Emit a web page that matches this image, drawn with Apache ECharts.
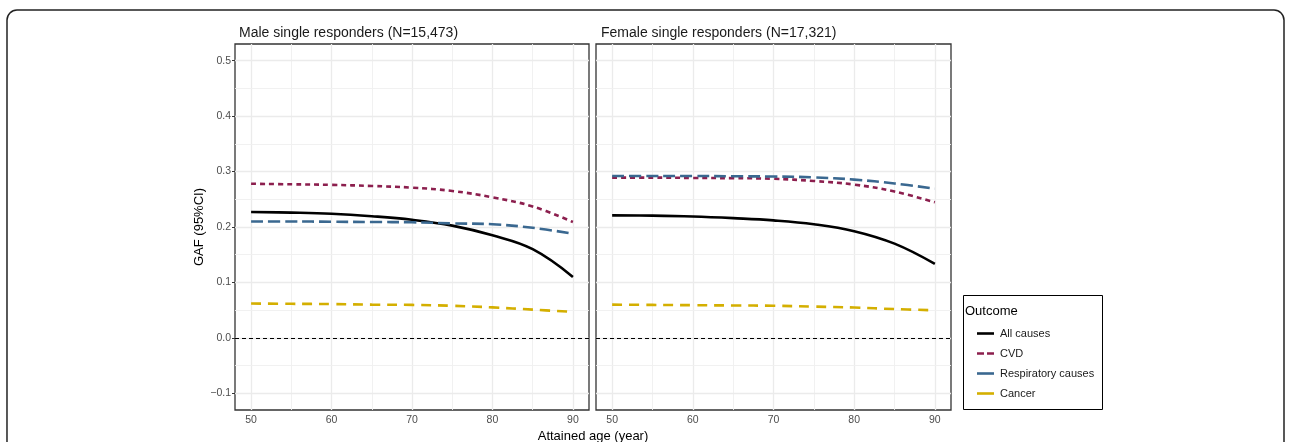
<!DOCTYPE html>
<html>
<head>
<meta charset="utf-8">
<script src="https://cdn.jsdelivr.net/npm/echarts@6/dist/echarts.min.js"></script>
<style>
html,body{margin:0;padding:0;background:#fff;}
#main{width:1292px;height:442px;}
</style>
</head>
<body>
<div id="main"></div>
<script>
// attained age points
var ages = [50, 55, 60, 65, 70, 75, 80, 85, 90];

var maleAll    = [0.227, 0.226, 0.224, 0.2195, 0.213, 0.2025, 0.185, 0.160, 0.110];
var maleCvd    = [0.278, 0.277, 0.276, 0.274, 0.271, 0.265, 0.2535, 0.237, 0.209];
var maleResp   = [0.210, 0.210, 0.2095, 0.209, 0.2085, 0.2065, 0.205, 0.1985, 0.188];
var maleCancer = [0.062, 0.0615, 0.061, 0.060, 0.0595, 0.058, 0.055, 0.051, 0.047];

var femAll    = [0.221, 0.2205, 0.219, 0.216, 0.212, 0.205, 0.1925, 0.170, 0.1335];
var femCvd    = [0.289, 0.289, 0.2885, 0.288, 0.287, 0.283, 0.2765, 0.264, 0.2445];
var femResp   = [0.292, 0.292, 0.292, 0.2915, 0.291, 0.2895, 0.2855, 0.2785, 0.269];
var femCancer = [0.060, 0.0595, 0.059, 0.0585, 0.058, 0.0565, 0.0548, 0.052, 0.0498];

var outcomes = ['All causes', 'CVD', 'Respiratory causes', 'Cancer'];
var xTicks = [50, 60, 70, 80, 90];
var xMinor = [55, 65, 75, 85];
var yTicks = [-0.1, 0, 0.1, 0.2, 0.3, 0.4, 0.5];
var yMinor = [-0.05, 0.05, 0.15, 0.25, 0.35, 0.45];

var colors = {'All causes':'#000000', 'CVD':'#8C1F4E', 'Respiratory causes':'#3A6890', 'Cancer':'#D4AF00'};
var dashes = {'All causes':'solid', 'CVD':[5,4], 'Respiratory causes':[12,5], 'Cancer':[10,7]};
// legend keys: solid bar, or two short dashes for CVD
var keyIcons = {
    'All causes':'path://M0,0H17V2.6H0Z',
    'CVD':'path://M0,0H7V2.6H0Z M10,0H17V2.6H10Z',
    'Respiratory causes':'path://M0,0H17V2.6H0Z',
    'Cancer':'path://M0,0H17V2.6H0Z'
};

function pairs(ys){
    var out = [];
    for (var i = 0; i < ages.length; i++) out.push([ages[i], ys[i]]);
    return out;
}

function gridLines(idx){
    var d = [];
    xTicks.forEach(function(v){ d.push({xAxis:v, lineStyle:{color:'#EBEBEB', width:1.3, type:'solid'}}); });
    xMinor.forEach(function(v){ d.push({xAxis:v, lineStyle:{color:'#EFEFEF', width:0.9, type:'solid'}}); });
    yTicks.forEach(function(v){ d.push({yAxis:v, lineStyle:{color:'#EBEBEB', width:1.3, type:'solid'}}); });
    yMinor.forEach(function(v){ d.push({yAxis:v, lineStyle:{color:'#EFEFEF', width:0.9, type:'solid'}}); });
    return {
        name:'grid' + idx, type:'line', xAxisIndex:idx, yAxisIndex:idx, data:[], z:1, silent:true,
        markLine:{z:1, silent:true, symbol:['none','none'], label:{show:false}, animation:false, data:d}
    };
}

function zeroLine(idx){
    return {
        name:'zero' + idx, type:'line', xAxisIndex:idx, yAxisIndex:idx, data:[], z:2, silent:true,
        markLine:{z:2, silent:true, symbol:['none','none'], label:{show:false}, animation:false,
            data:[{yAxis:0, lineStyle:{color:'#000', width:1, type:[4,3]}}]}
    };
}

function curve(name, idx, ys){
    return {
        name:name, type:'line', xAxisIndex:idx, yAxisIndex:idx, data:pairs(ys),
        smooth:0.4, symbol:'none', z:3,
        lineStyle:{color:colors[name], width:2.6, type:dashes[name]},
        itemStyle:{color:colors[name]}
    };
}

var fontFam = '"Liberation Sans", Arial, sans-serif';

function xAxisOf(idx){
    return {
        type:'value', gridIndex:idx, min:48, max:92,
        axisLine:{show:false},
        axisTick:{show:true, customValues:xTicks, length:3, lineStyle:{color:'#333', width:1}},
        axisLabel:{customValues:xTicks, color:'#4D4D4D', fontSize:10.5, margin:5, fontFamily:fontFam},
        splitLine:{show:false}
    };
}

function yAxisOf(idx){
    return {
        type:'value', gridIndex:idx, min:-0.13, max:0.53,
        name: idx === 0 ? 'GAF (95%CI)' : '',
        nameLocation:'middle', nameGap:27, nameRotate:90,
        nameTextStyle:{color:'#000', fontSize:13, fontFamily:fontFam},
        axisLine:{show:false},
        axisTick:{show: idx === 0, customValues:yTicks, length:3, lineStyle:{color:'#333', width:1}},
        axisLabel:{show: idx === 0, customValues:yTicks, color:'#4D4D4D', fontSize:10.5, margin:4, fontFamily:fontFam,
            formatter:function(v){ return v < 0 ? '\u2212' + Math.abs(v).toFixed(1) : v.toFixed(1); }},
        splitLine:{show:false}
    };
}

var chart = echarts.init(document.getElementById('main'));
var series = [gridLines(0), gridLines(1), zeroLine(0), zeroLine(1)];
series.push(curve('All causes', 0, maleAll), curve('CVD', 0, maleCvd), curve('Respiratory causes', 0, maleResp), curve('Cancer', 0, maleCancer));
series.push(curve('All causes', 1, femAll), curve('CVD', 1, femCvd), curve('Respiratory causes', 1, femResp), curve('Cancer', 1, femCancer));

var option = {
    animation:false,
    backgroundColor:'#fff',
    title:[
        {text:'Male single responders (N=15,473)', left:239, top:26, padding:0,
         textStyle:{fontSize:14, fontWeight:'normal', color:'#1A1A1A', fontFamily:fontFam}},
        {text:'Female single responders (N=17,321)', left:601, top:26, padding:0,
         textStyle:{fontSize:14, fontWeight:'normal', color:'#1A1A1A', fontFamily:fontFam}}
    ],
    grid:[
        {left:235, top:44, width:354, height:366, show:true, borderColor:'#333', borderWidth:1.3, backgroundColor:'#fff'},
        {left:596, top:44, width:355, height:366, show:true, borderColor:'#333', borderWidth:1.3, backgroundColor:'#fff'}
    ],
    xAxis:[xAxisOf(0), xAxisOf(1)],
    yAxis:[yAxisOf(0), yAxisOf(1)],
    legend:{
        data:outcomes.map(function(n){ return {name:n, icon:keyIcons[n]}; }),
        orient:'vertical', left:972, top:323,
        itemWidth:17, itemHeight:8, itemGap:9,
        textStyle:{fontSize:11, color:'#1A1A1A', fontFamily:fontFam, padding:[0,0,0,1]}
    },
    graphic:[
        {type:'rect', shape:{x:7, y:10, width:1277, height:470, r:10}, silent:true,
         style:{fill:'none', stroke:'#222', lineWidth:1.5}},
        {type:'rect', shape:{x:963.5, y:295.5, width:139, height:114}, silent:true,
         style:{fill:'#fff', stroke:'#000', lineWidth:1}, z:-1},
        {type:'text', x:965, y:311, silent:true,
         style:{text:'Outcome', fontSize:13, fill:'#000', fontFamily:fontFam, textVerticalAlign:'middle'}},
        {type:'text', x:593, y:436, silent:true,
         style:{text:'Attained age (year)', fontSize:13, fill:'#000', fontFamily:fontFam, textAlign:'center', textVerticalAlign:'middle'}}
    ],
    series:series
};
chart.setOption(option);
</script>
</body>
</html>
